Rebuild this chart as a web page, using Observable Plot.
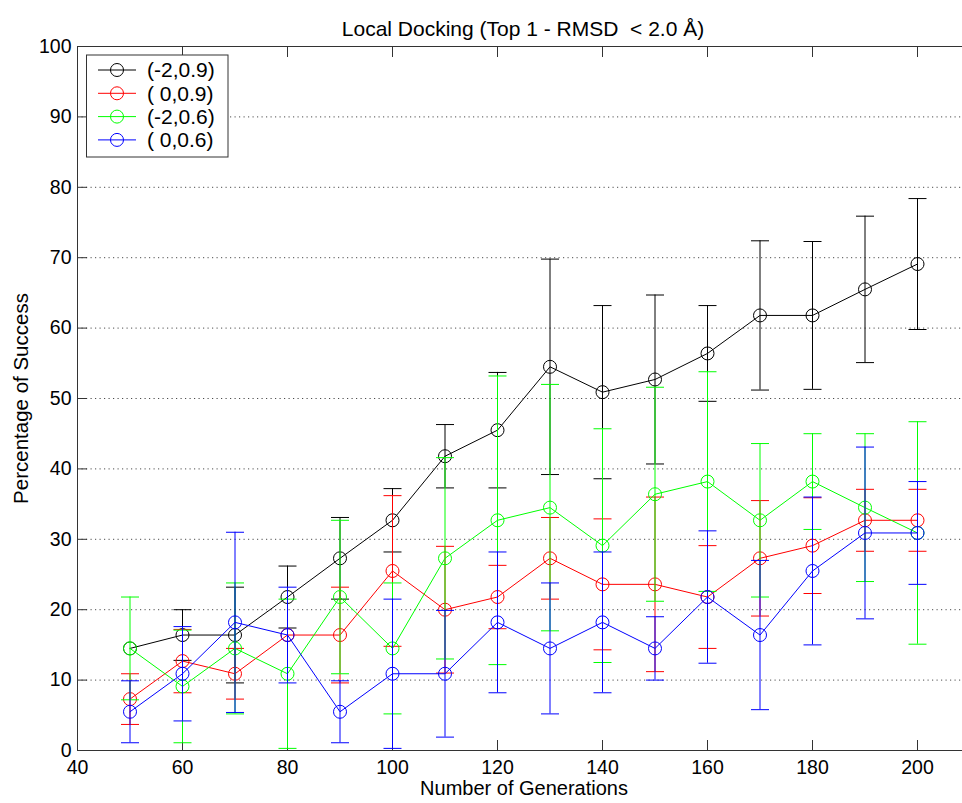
<!DOCTYPE html>
<html><head><meta charset="utf-8">
<script src="https://cdn.jsdelivr.net/npm/d3@7"></script>
<script src="https://cdn.jsdelivr.net/npm/@observablehq/plot@0.6"></script>
<style>
body{margin:0;background:#fff}
svg text{white-space:pre}
</style>
</head><body><div id="chart"></div>
<script>
const generations = [50,60,70,80,90,100,110,120,130,140,150,160,170,180,190,200];
const seriesNames = ["(-2,0.9)", "( 0,0.9)", "(-2,0.6)", "( 0,0.6)"];
const seriesColors = ["#000000", "#ff0000", "#00ff00", "#0000ff"];

const meanM2_09 = [14.5,16.4,16.4,21.8,27.3,32.7,41.8,45.5,54.5,50.9,52.7,56.4,61.8,61.8,65.5,69.1];
const errM2_09  = [0,3.6,6.8,4.4,5.8,4.5,4.5,8.2,15.3,12.3,12.0,6.8,10.6,10.5,10.4,9.3];
const mean0_09  = [7.3,12.7,10.9,16.4,16.4,25.5,20.0,21.8,27.3,23.6,23.6,21.8,27.3,29.1,32.7,32.7];
const err0_09   = [3.6,4.5,3.6,0,6.8,10.7,9.0,4.5,5.8,9.3,12.4,7.3,8.2,6.8,4.4,4.4];
const meanM2_06 = [14.5,9.1,14.5,10.9,21.8,14.5,27.3,32.7,34.5,29.1,36.4,38.2,32.7,38.2,34.5,30.9];
const errM2_06  = [7.3,8.0,9.3,10.6,10.9,9.3,14.3,20.5,17.5,16.6,15.2,15.6,10.9,6.8,10.5,15.8];
const mean0_06  = [5.5,10.9,18.2,16.4,5.5,10.9,10.9,18.2,14.5,18.2,14.5,21.8,16.4,25.5,30.9,30.9];
const err0_06   = [4.4,6.7,12.8,6.8,4.4,10.6,9.0,10.0,9.3,10.0,4.5,9.4,10.6,10.5,12.2,7.3];

const xTicks = [40,60,80,100,120,140,160,180,200];
const yTicks = [0,10,20,30,40,50,60,70,80,90,100];
const gridTicks = [10,20,30,40,50,60,70,80,90];
const titleText = "Local Docking (Top 1 - RMSD  < 2.0 Å)";
const xLabel = "Number of Generations";
const yLabel = "Percentage of Success";

const means = [meanM2_09, mean0_09, meanM2_06, mean0_06];
const errs = [errM2_09, err0_09, errM2_06, err0_06];
const series = seriesNames.map((name, i) => ({
  name, color: seriesColors[i],
  rows: generations.map((g, j) => ({x: g, y: means[i][j], e: errs[i][j]}))
}));

const font = "'Liberation Sans', Arial, sans-serif";
const capSymbol = {draw(ctx, size) { const w = Math.sqrt(size / Math.PI); ctx.moveTo(-w, 0); ctx.lineTo(w, 0); }};

const seriesMarks = series.flatMap(s => {
  const withErr = s.rows.filter(d => d.e > 0);
  return [
    Plot.ruleX(withErr, {x: "x", y1: d => d.y - d.e, y2: d => d.y + d.e, stroke: s.color, strokeWidth: 1}),
    Plot.dot(withErr, {x: "x", y: d => d.y - d.e, symbol: capSymbol, r: 9, stroke: s.color, strokeWidth: 1, fill: "none"}),
    Plot.dot(withErr, {x: "x", y: d => d.y + d.e, symbol: capSymbol, r: 9, stroke: s.color, strokeWidth: 1, fill: "none"}),
    Plot.line(s.rows, {x: "x", y: "y", stroke: s.color, strokeWidth: 1}),
    Plot.dot(s.rows, {x: "x", y: "y", r: 6.5, stroke: s.color, strokeWidth: 1, fill: "none"})
  ];
});

const chart = Plot.plot({
  width: 962, height: 803,
  marginLeft: 77, marginTop: 46, marginBottom: 53, marginRight: 0,
  style: {fontFamily: font, fontSize: "19px", background: "white", overflow: "hidden", color: "#000"},
  x: {domain: [40, 210], range: [77, 969.5]},
  y: {domain: [0, 100]},
  marks: [
    Plot.gridY(gridTicks, {stroke: "#000", strokeOpacity: 0.7, strokeDasharray: "1.2,3.3"}),
    Plot.axisY(yTicks, {tickSize: 0, tickPadding: 6, label: null, fontSize: 19.5}),
    Plot.axisY(yTicks, {tickSize: -10, tickFormat: () => "", label: null, stroke: "#333"}),
    Plot.axisX(xTicks, {tickSize: 0, tickPadding: 10, label: null, fontSize: 19.5}),
    Plot.axisX(xTicks, {anchor: "bottom", tickSize: -10, tickFormat: () => "", label: null, stroke: "#333"}),
    Plot.axisX(xTicks, {anchor: "top", tickSize: -10, tickFormat: () => "", label: null, stroke: "#333"}),
    Plot.ruleY([0, 100], {stroke: "#333"}),
    Plot.ruleX([40], {stroke: "#333"}),
    ...seriesMarks,
    Plot.text([titleText], {frameAnchor: "top", dy: -25, dx: 3, fontSize: 21}),
    Plot.text([xLabel], {frameAnchor: "bottom", dy: 44, dx: 4, fontSize: 20}),
    Plot.text([yLabel], {frameAnchor: "left", dx: -56, rotate: -90, textAnchor: "middle", fontSize: 20.5})
  ]
});
document.getElementById("chart").appendChild(chart);

// legend
const svg = d3.select(chart);
const lg = svg.append("g").attr("font-family", font).attr("font-size", 21).attr("text-anchor", "start");
lg.append("rect").attr("x", 86.5).attr("y", 55).attr("width", 141.5).attr("height", 102)
  .attr("fill", "white").attr("stroke", "#333").attr("stroke-width", 1);
series.forEach((s, i) => {
  const y = 70 + i * 23.3;
  lg.append("line").attr("x1", 98).attr("x2", 136).attr("y1", y).attr("y2", y).attr("stroke", s.color);
  lg.append("circle").attr("cx", 117).attr("cy", y).attr("r", 6.5).attr("fill", "none").attr("stroke", s.color);
  lg.append("text").attr("x", 147).attr("y", y).attr("dy", "0.35em").attr("fill", "#000").style("white-space", "pre").text(s.name);
});
</script></body></html>
